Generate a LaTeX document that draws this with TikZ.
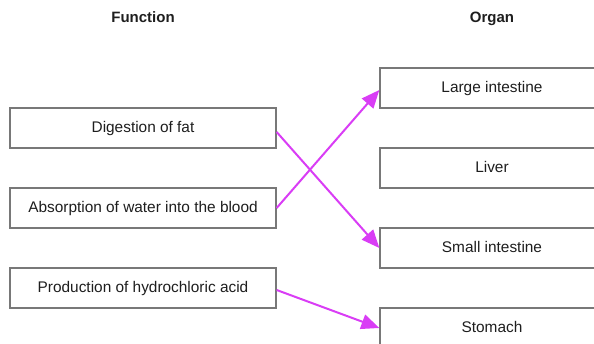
\documentclass[tikz,border=0pt]{standalone}
\usepackage{fontspec}
\setmainfont{Liberation Sans}
\usetikzlibrary{arrows.meta}
\definecolor{arrowc}{RGB}{217,61,245}
\definecolor{boxc}{RGB}{120,120,120}
\definecolor{txtc}{RGB}{30,30,30}
\begin{document}
\begin{tikzpicture}[x=1pt,y=-1pt,
  fbox/.style={draw=boxc,line width=1.3pt,fill=white,minimum width=266pt,minimum height=40pt,inner sep=0pt,text=txtc,text height=11pt,text depth=2pt,font=\fontsize{15.4}{18}\selectfont},
  obox/.style={fbox,minimum width=224pt},
  head/.style={font=\fontsize{15}{18}\selectfont\bfseries,text=txtc,inner sep=0pt,anchor=base},
  link/.style={draw=arrowc,line width=2pt,-{Triangle[length=18pt,width=15pt]}}]
\clip (0,0) rectangle (594,344);
\useasboundingbox (0,0) rectangle (594,344);
\node[head] (hf) at (143,22.5) {Function};
\node[head] (ho) at (492,22.5) {Organ};
\node[fbox] (f1) at (143,128) {Digestion of fat};
\node[fbox] (f2) at (143,208) {Absorption of water into the blood};
\node[fbox] (f3) at (143,288) {Production of hydrochloric acid};
\node[obox] (o1) at (492,88) {Large intestine};
\node[obox] (o2) at (492,168) {Liver};
\node[obox] (o3) at (492,248) {Small intestine};
\node[obox] (o4) at (492,328) {Stomach};
\draw[link] ([yshift=-4pt]f1.east) -- (o3.west);
\draw[link] (f2.east) -- ([yshift=-2pt]o1.west);
\draw[link] ([yshift=-2pt]f3.east) -- (o4.west);
\end{tikzpicture}
\end{document}
